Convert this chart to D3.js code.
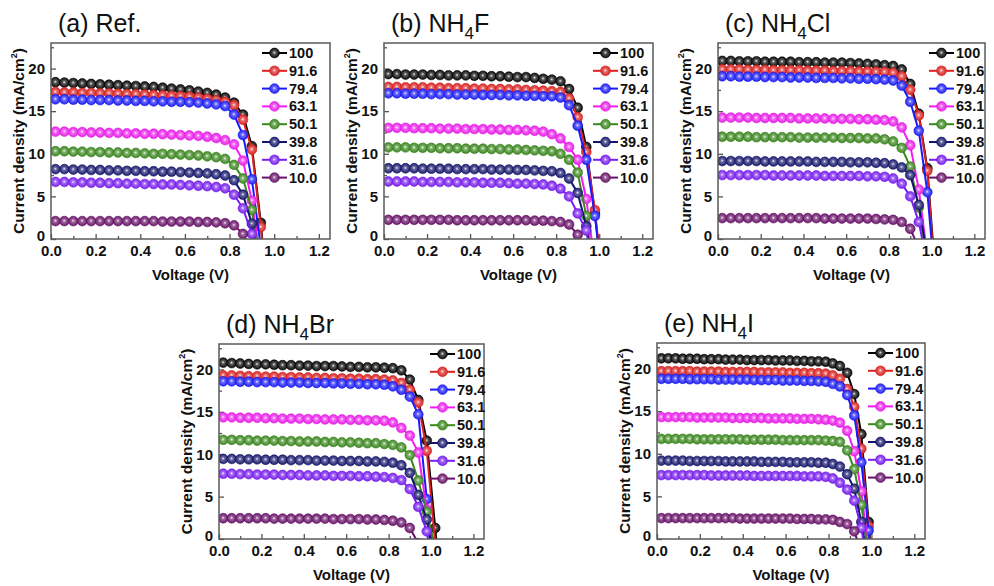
<!DOCTYPE html>
<html>
<head>
<meta charset="utf-8">
<script src="https://cdn.jsdelivr.net/npm/d3@7"></script>
<style>
  body { margin: 0; background: #fff; }
  svg text { font-family: "Liberation Sans", Arial, sans-serif; }
</style>
</head>
<body>
<svg id="chart" width="994" height="586"></svg>
<script>
// light intensities (mW/cm2) shown in every legend
const intensities = ['100', '91.6', '79.4', '63.1', '50.1', '39.8', '31.6', '10.0'];
const seriesColors = ['#000000', '#e0201e', '#1a1aff', '#f21cf2', '#3a8a1c', '#14146e', '#7a1cf5', '#6a0f6a'];

const xTicks = [0, 0.2, 0.4, 0.6, 0.8, 1.0, 1.2];
const xMinor = [0.1, 0.3, 0.5, 0.7, 0.9, 1.1];
const yTicks = [0, 5, 10, 15, 20];
const yMinor = [2.5, 7.5, 12.5, 17.5, 22.5];

// voltage points (V)
const voltsAD = [0.02, 0.06, 0.10, 0.14, 0.18, 0.22, 0.26, 0.30, 0.34, 0.38, 0.42, 0.46, 0.50, 0.54,
  0.58, 0.62, 0.66, 0.70, 0.74, 0.78, 0.82, 0.86, 0.90, 0.94, 0.98, 1.02, 1.06];
const voltsE = [0.020, 0.053, 0.087, 0.120, 0.153, 0.187, 0.220, 0.253, 0.287, 0.320, 0.353, 0.387,
  0.420, 0.453, 0.487, 0.520, 0.553, 0.587, 0.620, 0.653, 0.687, 0.720, 0.753, 0.787, 0.820, 0.853,
  0.887, 0.920, 0.953, 0.987, 1.020];

// current density (mA/cm2), one row per intensity
const refJ = [
  [18.4,18.35,18.3,18.25,18.2,18.15,18.1,18.05,18.0,17.95,17.9,17.85,17.75,17.65,17.55,17.45,17.3,17.15,16.95,16.6,16.0,14.6,10.9,1.9,-10,-20,-30],
  [17.25,17.2,17.2,17.15,17.15,17.1,17.1,17.05,17.0,17.0,16.95,16.9,16.85,16.8,16.75,16.7,16.6,16.45,16.3,16.1,15.7,14.0,10.5,1.4,-10,-20,-30],
  [16.4,16.4,16.35,16.35,16.3,16.3,16.3,16.25,16.25,16.2,16.2,16.15,16.15,16.1,16.1,16.05,16.0,15.9,15.8,15.6,14.6,12.2,7.0,-1,-12,-20,-30],
  [12.6,12.6,12.55,12.55,12.5,12.5,12.45,12.45,12.4,12.4,12.35,12.35,12.3,12.25,12.2,12.15,12.1,12.0,11.85,11.6,11.1,9.2,4.5,-3,-12,-20,-30],
  [10.3,10.3,10.25,10.25,10.2,10.2,10.15,10.15,10.1,10.1,10.05,10.0,10.0,9.95,9.9,9.85,9.8,9.7,9.6,9.4,8.7,7.1,3.4,-4,-12,-20,-30],
  [8.2,8.2,8.15,8.15,8.1,8.1,8.05,8.05,8.0,8.0,7.95,7.95,7.9,7.9,7.85,7.8,7.75,7.7,7.6,7.45,6.9,5.2,1.8,-4,-12,-20,-30],
  [6.7,6.7,6.65,6.65,6.6,6.6,6.55,6.55,6.5,6.5,6.45,6.45,6.4,6.4,6.35,6.3,6.25,6.2,6.1,5.95,5.2,3.6,0.6,-5,-12,-20,-30],
  [2.1,2.1,2.1,2.1,2.1,2.1,2.1,2.1,2.1,2.1,2.1,2.1,2.05,2.05,2.05,2.05,2.0,2.0,1.95,1.85,1.6,0.6,-1.5,-6,-12,-20,-30]
];
const fJ = [
  [19.35,19.35,19.3,19.3,19.3,19.25,19.25,19.2,19.2,19.2,19.15,19.15,19.1,19.1,19.05,19.0,19.0,18.9,18.8,18.7,18.5,17.6,15.4,10.8,3.0,-6,-15],
  [17.85,17.85,17.8,17.8,17.8,17.75,17.75,17.7,17.7,17.7,17.65,17.65,17.6,17.6,17.55,17.55,17.5,17.45,17.4,17.35,17.25,16.5,14.3,10.2,3.4,-6,-15],
  [17.1,17.1,17.05,17.05,17.05,17.0,17.0,17.0,16.95,16.95,16.95,16.9,16.9,16.9,16.85,16.85,16.8,16.8,16.75,16.75,16.6,15.7,13.3,9.3,2.7,-6,-15],
  [13.05,13.05,13.05,13.0,13.0,13.0,12.95,12.95,12.95,12.9,12.9,12.9,12.85,12.85,12.8,12.8,12.75,12.7,12.6,12.3,11.8,10.8,9.3,4.7,-3,-12,-20],
  [10.75,10.75,10.75,10.7,10.7,10.7,10.65,10.65,10.65,10.6,10.6,10.6,10.55,10.55,10.5,10.5,10.45,10.4,10.35,10.3,10.0,9.3,7.8,2.7,-5,-12,-20],
  [8.3,8.3,8.3,8.3,8.25,8.25,8.25,8.25,8.2,8.2,8.2,8.2,8.15,8.15,8.15,8.1,8.1,8.05,8.0,7.95,7.75,7.1,5.4,1.5,-5,-12,-20],
  [6.75,6.75,6.75,6.75,6.7,6.7,6.7,6.7,6.65,6.65,6.65,6.6,6.6,6.6,6.55,6.5,6.5,6.45,6.4,6.25,5.9,5.0,3.0,1.0,-5,-12,-20],
  [2.25,2.25,2.25,2.25,2.25,2.25,2.25,2.25,2.2,2.2,2.2,2.2,2.2,2.2,2.2,2.2,2.2,2.15,2.15,2.1,2.0,1.7,0.5,-2,-6,-12,-20]
];
const clJ = [
  [20.9,20.9,20.85,20.85,20.85,20.8,20.8,20.8,20.8,20.75,20.75,20.75,20.7,20.7,20.7,20.65,20.6,20.55,20.5,20.4,20.3,19.9,18.2,14.7,8.3,-5,-15],
  [19.9,19.9,19.9,19.85,19.85,19.85,19.8,19.8,19.8,19.8,19.75,19.75,19.75,19.7,19.7,19.7,19.65,19.65,19.6,19.6,19.5,19.1,17.5,14.5,8.0,-6,-15],
  [19.1,19.1,19.05,19.05,19.05,19.0,19.0,19.0,18.95,18.95,18.95,18.9,18.9,18.9,18.85,18.85,18.8,18.8,18.75,18.7,18.6,18.0,16.1,12.7,5.5,-6,-15],
  [14.25,14.25,14.25,14.25,14.2,14.2,14.2,14.2,14.2,14.15,14.15,14.15,14.15,14.1,14.1,14.1,14.05,14.05,14.0,13.95,13.8,13.1,11.0,5.8,-2,-12,-20],
  [12.0,12.0,12.0,12.0,11.95,11.95,11.95,11.95,11.95,11.9,11.9,11.9,11.9,11.9,11.85,11.85,11.85,11.8,11.8,11.7,11.45,10.7,8.5,3.7,-3,-12,-20],
  [9.15,9.15,9.15,9.15,9.15,9.1,9.1,9.1,9.1,9.1,9.1,9.05,9.05,9.05,9.05,9.0,9.0,9.0,8.95,8.9,8.75,8.4,7.5,4.0,-2,-12,-20],
  [7.5,7.5,7.5,7.5,7.5,7.5,7.45,7.45,7.45,7.45,7.45,7.45,7.4,7.4,7.4,7.4,7.4,7.35,7.35,7.3,7.1,6.5,5.0,2.0,-3,-12,-20],
  [2.45,2.45,2.45,2.45,2.45,2.45,2.45,2.45,2.45,2.45,2.45,2.45,2.4,2.4,2.4,2.4,2.4,2.4,2.35,2.3,2.25,2.0,1.2,-1,-6,-12,-20]
];
const brJ = [
  [20.8,20.75,20.7,20.65,20.6,20.6,20.55,20.5,20.5,20.45,20.45,20.4,20.4,20.4,20.35,20.3,20.3,20.25,20.25,20.2,20.15,19.9,18.8,16.4,11.6,1.3,-10],
  [19.3,19.3,19.25,19.2,19.2,19.15,19.15,19.1,19.1,19.05,19.05,19.0,19.0,18.95,18.95,18.9,18.9,18.85,18.85,18.8,18.7,18.4,17.6,16.1,10.4,-0.5,-10],
  [18.6,18.6,18.55,18.55,18.5,18.5,18.5,18.45,18.45,18.45,18.4,18.4,18.4,18.35,18.35,18.3,18.3,18.25,18.25,18.2,18.0,17.6,16.8,14.7,4.7,-8,-15],
  [14.35,14.35,14.3,14.3,14.3,14.25,14.25,14.2,14.2,14.2,14.15,14.15,14.1,14.1,14.1,14.05,14.05,14.0,14.0,13.95,13.75,13.1,12.2,10.2,3.5,-6,-15],
  [11.7,11.7,11.65,11.65,11.6,11.6,11.6,11.55,11.55,11.5,11.5,11.5,11.45,11.45,11.4,11.4,11.35,11.3,11.3,11.2,11.1,10.8,9.9,6.9,3.2,-1,-10],
  [9.45,9.45,9.4,9.4,9.4,9.35,9.35,9.35,9.3,9.3,9.3,9.25,9.25,9.25,9.2,9.2,9.2,9.15,9.15,9.1,9.0,8.7,7.8,5.2,2.3,-3,-12],
  [7.7,7.7,7.65,7.65,7.6,7.6,7.6,7.55,7.55,7.55,7.5,7.5,7.5,7.45,7.45,7.45,7.4,7.4,7.35,7.3,7.2,6.95,5.9,3.8,0.9,-5,-12],
  [2.45,2.45,2.45,2.45,2.45,2.45,2.4,2.4,2.4,2.4,2.4,2.4,2.4,2.35,2.35,2.35,2.35,2.3,2.3,2.25,2.15,1.95,1.3,-0.5,-6,-12,-15]
];
const iJ = [
  [21.2,21.2,21.2,21.15,21.15,21.15,21.1,21.1,21.1,21.05,21.05,21.05,21.0,21.0,21.0,21.0,20.95,20.95,20.95,20.9,20.9,20.85,20.85,20.8,20.6,20.3,19.5,17.0,12.3,2.0,-8],
  [19.7,19.7,19.7,19.7,19.7,19.65,19.65,19.65,19.65,19.6,19.6,19.6,19.6,19.6,19.55,19.55,19.55,19.55,19.5,19.5,19.5,19.45,19.45,19.4,19.2,18.8,17.6,15.5,10.6,1.5,-8],
  [18.8,18.8,18.8,18.8,18.75,18.75,18.75,18.75,18.7,18.7,18.7,18.7,18.7,18.65,18.65,18.65,18.65,18.6,18.6,18.6,18.55,18.55,18.5,18.45,18.2,17.9,16.9,14.5,9.0,1.0,-8],
  [14.3,14.3,14.3,14.3,14.3,14.25,14.25,14.25,14.25,14.25,14.2,14.2,14.2,14.2,14.2,14.15,14.15,14.15,14.15,14.1,14.1,14.1,14.05,14.0,13.9,13.65,12.7,10.3,5.6,-1.5,-10],
  [11.75,11.75,11.75,11.75,11.75,11.7,11.7,11.7,11.7,11.7,11.7,11.7,11.65,11.65,11.65,11.65,11.65,11.6,11.6,11.6,11.6,11.6,11.6,11.55,11.5,11.4,10.4,8.2,4.0,-2,-10],
  [9.2,9.2,9.2,9.2,9.15,9.15,9.15,9.15,9.15,9.1,9.1,9.1,9.1,9.1,9.05,9.05,9.05,9.05,9.0,9.0,9.0,9.0,8.95,8.95,8.8,8.5,7.6,5.9,2.0,-3,-10],
  [7.5,7.5,7.5,7.5,7.5,7.5,7.5,7.45,7.45,7.45,7.45,7.45,7.45,7.4,7.4,7.4,7.4,7.4,7.4,7.4,7.35,7.35,7.35,7.3,7.1,6.6,5.8,4.5,1.3,-4,-10],
  [2.45,2.45,2.45,2.45,2.45,2.45,2.45,2.45,2.45,2.45,2.45,2.4,2.4,2.4,2.4,2.4,2.4,2.4,2.4,2.35,2.35,2.35,2.3,2.3,2.25,2.0,1.75,0.9,-1.5,-6,-10]
];

// panel layout (pixel boxes)
const panels = [
  { pre: '(a) Ref.', sub: '', post: '', left: 51, top: 43, right: 330, bottom: 239, legX: 262, volts: voltsAD, curves: refJ },
  { pre: '(b) NH', sub: '4', post: 'F', left: 384, top: 43, right: 653, bottom: 239, legX: 593, volts: voltsAD, curves: fJ },
  { pre: '(c) NH', sub: '4', post: 'Cl', left: 718, top: 43, right: 985, bottom: 239, legX: 929, volts: voltsAD, curves: clJ },
  { pre: '(d) NH', sub: '4', post: 'Br', left: 219, top: 344, right: 484, bottom: 539, legX: 430, volts: voltsAD, curves: brJ },
  { pre: '(e) NH', sub: '4', post: 'I', left: 657, top: 343, right: 925, bottom: 539, legX: 868, volts: voltsE, curves: iJ }
];

const svg = d3.select('#chart');
const defs = svg.append('defs');

// shaded ball markers
seriesColors.forEach((c, i) => {
  const grad = defs.append('radialGradient')
    .attr('id', 'ball' + i)
    .attr('cx', '50%').attr('cy', '50%').attr('r', '55%')
    .attr('fx', '48%').attr('fy', '45%');
  grad.append('stop').attr('offset', '0%').attr('stop-color', d3.interpolateRgb(c, '#fff')(0.92));
  grad.append('stop').attr('offset', '30%').attr('stop-color', d3.interpolateRgb(c, '#fff')(0.35));
  grad.append('stop').attr('offset', '100%').attr('stop-color', d3.interpolateRgb(c, '#000')(0.1));
});

function drawPanel(p, pi) {
  const x = d3.scaleLinear().domain([0, 1.25]).range([p.left, p.right]);
  const y = d3.scaleLinear().domain([0, 23]).range([p.bottom, p.top]);
  const g = svg.append('g');

  defs.append('clipPath').attr('id', 'clip' + pi)
    .append('rect')
    .attr('x', p.left).attr('y', p.top)
    .attr('width', p.right - p.left).attr('height', p.bottom - p.top);

  // axes (ticks inward)
  g.append('g').attr('transform', `translate(0,${p.bottom})`)
    .call(d3.axisBottom(x).tickValues(xTicks).tickSize(-5).tickPadding(6).tickFormat(d3.format('.1f')));
  g.append('g').attr('transform', `translate(0,${p.bottom})`)
    .call(d3.axisBottom(x).tickValues(xMinor).tickSize(-3).tickFormat(''));
  const yAxis = g.append('g').attr('transform', `translate(${p.left},0)`)
    .call(d3.axisLeft(y).tickValues(yTicks).tickSize(-5).tickPadding(6));
  g.append('g').attr('transform', `translate(${p.left},0)`)
    .call(d3.axisLeft(y).tickValues(yMinor).tickSize(-3).tickFormat(''));
  g.selectAll('.domain').remove();
  g.selectAll('.tick line').attr('stroke', '#555').attr('stroke-width', 1.3);
  g.selectAll('.tick text').attr('font-size', 15).attr('font-weight', 'bold').attr('fill', '#111');
  // lift the "0" so it sits just above the "0.0" label
  yAxis.selectAll('.tick text').filter(d => d === 0).attr('dy', '0.1em');

  // curves
  const plot = g.append('g').attr('clip-path', `url(#clip${pi})`);
  const line = d3.line()
    .x((d, i) => x(p.volts[i]))
    .y(d => y(d));
  p.curves.forEach((row, si) => {
    plot.append('path')
      .datum(row)
      .attr('fill', 'none')
      .attr('stroke', seriesColors[si])
      .attr('stroke-width', 2)
      .attr('d', line);
    plot.selectAll(null)
      .data(row)
      .enter().append('circle')
      .attr('cx', (d, i) => x(p.volts[i]))
      .attr('cy', d => y(d))
      .attr('r', 4.9)
      .attr('fill', `url(#ball${si})`)
      .attr('stroke', seriesColors[si])
      .attr('stroke-width', 0.6);
  });

  // frame
  g.append('rect')
    .attr('x', p.left).attr('y', p.top)
    .attr('width', p.right - p.left).attr('height', p.bottom - p.top)
    .attr('fill', 'none').attr('stroke', '#5a5a5a').attr('stroke-width', 1.5);

  // legend
  const leg = g.append('g');
  intensities.forEach((name, si) => {
    const ly = p.top + 10 + si * 17.8;
    leg.append('line')
      .attr('x1', p.legX).attr('x2', p.legX + 25)
      .attr('y1', ly).attr('y2', ly)
      .attr('stroke', seriesColors[si]).attr('stroke-width', 2);
    leg.append('circle')
      .attr('cx', p.legX + 12.5).attr('cy', ly).attr('r', 4.9)
      .attr('fill', `url(#ball${si})`)
      .attr('stroke', seriesColors[si]).attr('stroke-width', 0.6);
    leg.append('text')
      .attr('x', p.legX + 27).attr('y', ly).attr('dy', '0.35em')
      .attr('font-size', 14.5).attr('font-weight', 'bold').attr('fill', '#111')
      .text(name);
  });

  // axis titles
  g.append('text')
    .attr('x', (p.left + p.right) / 2).attr('y', p.bottom + 41)
    .attr('text-anchor', 'middle')
    .attr('font-size', 15).attr('font-weight', 'bold').attr('fill', '#111')
    .text('Voltage (V)');
  const yl = g.append('text')
    .attr('transform', `translate(${p.left - 27},${(p.top + p.bottom) / 2}) rotate(-90)`)
    .attr('text-anchor', 'middle')
    .attr('font-size', 15.5).attr('font-weight', 'bold').attr('fill', '#111');
  yl.append('tspan').text('Current density (mA/cm');
  yl.append('tspan').attr('font-size', 9).attr('dy', -7).text('2');
  yl.append('tspan').attr('dy', 7).text(')');

  // panel title
  const t = g.append('text')
    .attr('x', p.left + 7).attr('y', p.top - 11)
    .attr('font-family', '"Open Sans", sans-serif')
    .attr('font-size', 25).attr('fill', '#111');
  t.append('tspan').text(p.pre);
  if (p.sub) {
    t.append('tspan').attr('font-size', 17).attr('dy', 7).text(p.sub);
    t.append('tspan').attr('dy', -7).text(p.post);
  }
}

panels.forEach(drawPanel);
</script>
</body>
</html>
